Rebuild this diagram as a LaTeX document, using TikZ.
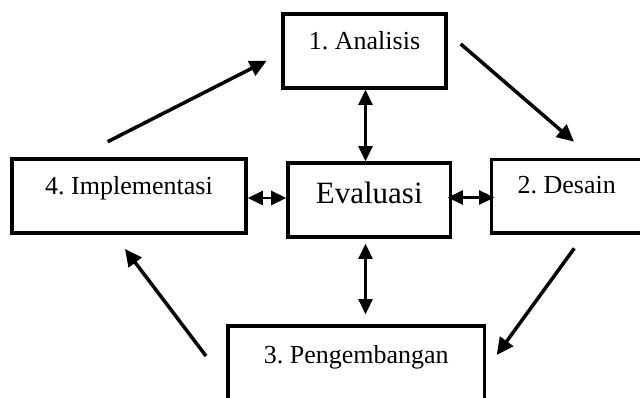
\documentclass[tikz,border=0pt]{standalone}
\usepackage{fontspec}
\setmainfont{Liberation Serif}
\usetikzlibrary{arrows.meta}
\frenchspacing
\begin{document}
\begin{tikzpicture}[x=1pt,y=-1pt,
  box/.style={draw, line width=3.6pt, inner sep=0pt, font=\fontsize{26}{30}\selectfont},
  diag/.style={line width=3.5pt, -{Triangle[length=17pt,width=16pt]}},
  dbl/.style={line width=2.6pt, {Triangle[length=15pt,width=14pt]}-{Triangle[length=15pt,width=14pt]}}]
\useasboundingbox (0,0) rectangle (640,398);
\clip (0,0) rectangle (640,398);
% boxes
\node[box, minimum width=163pt, text height=36pt, text depth=38pt] (ana) at (364.5,51) {1. Analisis};
\node[box, minimum width=234pt, text height=36pt, text depth=38pt] (imp) at (129,196) {4. Implementasi};
\node[box, minimum width=162.5pt, text height=41pt, text depth=33pt, font=\fontsize{31}{36}\selectfont] (eva) at (369.25,200) {Evaluasi};
\node[box, minimum width=150.4pt, text height=34.5pt, text depth=39pt] (des) at (566.7,196.25) {2. Desain};
\node[box, minimum width=256.5pt, text height=37.3pt, text depth=37.7pt] (pen) at (356.25,363.5) {3. Pengembangan};
% helper coordinates
\coordinate (v) at (365.5,0);
\coordinate (hl) at (0,198);
\coordinate (hr) at (0,197.5);
\coordinate (a1) at (107.7,141.7);
\coordinate (a2) at (266.7,60.7);
\coordinate (b1) at (460.7,44);
\coordinate (b2) at (574,141.7);
\coordinate (c1) at (574.3,248.3);
\coordinate (c2) at (496.7,355);
\coordinate (d1) at (206,356);
\coordinate (d2) at (125,249);
% double arrows
\draw[dbl] (ana.south -| v) -- (eva.north -| v);
\draw[dbl] ([yshift=-5pt]eva.south -| v) -- ([yshift=10pt]pen.north -| v);
\draw[dbl] (imp.east |- hl) -- (eva.west |- hl);
\draw[dbl] ([xshift=-4.5pt]eva.east |- hr) -- ([xshift=4.5pt]des.west |- hr);
% cycle arrows
\draw[diag] (a1) -- (a2);
\draw[diag] (b1) -- (b2);
\draw[diag] (c1) -- (c2);
\draw[diag] (d1) -- (d2);
\end{tikzpicture}
\end{document}
